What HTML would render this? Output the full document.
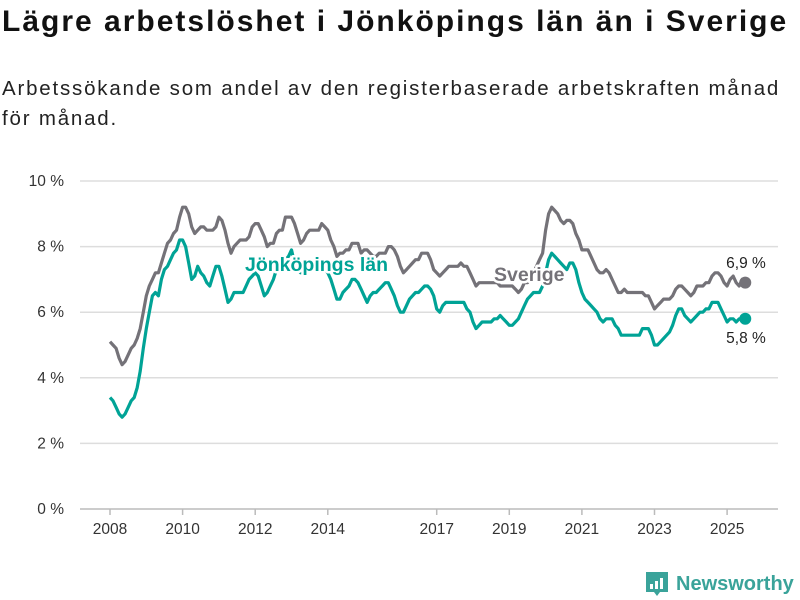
<!DOCTYPE html>
<html><head><meta charset="utf-8"><style>
body{margin:0;background:#fff;font-family:"Liberation Sans",sans-serif;}
#wrap{position:relative;width:800px;height:600px;overflow:hidden}
h1{position:absolute;left:2px;top:5px;margin:0;font-size:30px;font-weight:bold;color:#111;letter-spacing:2.0px;white-space:nowrap}
p.sub{position:absolute;left:2px;top:74px;margin:0;font-size:20.5px;line-height:30px;color:#222;width:796px;letter-spacing:1.8px;white-space:nowrap}
</style></head><body>
<div id="wrap">
<h1>Lägre arbetslöshet i Jönköpings län än i Sverige</h1>
<p class="sub">Arbetssökande som andel av den registerbaserade arbetskraften månad<br>för månad.</p>
<svg id="chart" width="800" height="600" style="position:absolute;left:0;top:0"></svg>
</div>
<script>
const yTicks=[0,2,4,6,8,10];
const yTickLabels=["0 %","2 %","4 %","6 %","8 %","10 %"];
const xTicks=[2008,2010,2012,2014,2017,2019,2021,2023,2025];
const startYear=2008;
const sverige=[5.1,5.0,4.9,4.6,4.4,4.5,4.7,4.9,5.0,5.2,5.5,6.0,
6.5,6.8,7.0,7.2,7.2,7.5,7.8,8.1,8.2,8.4,8.5,8.9,
9.2,9.2,9.0,8.6,8.4,8.5,8.6,8.6,8.5,8.5,8.5,8.6,
8.9,8.8,8.5,8.1,7.8,8.0,8.1,8.2,8.2,8.2,8.3,8.6,
8.7,8.7,8.5,8.3,8.0,8.1,8.1,8.4,8.5,8.5,8.9,8.9,
8.9,8.7,8.4,8.1,8.2,8.4,8.5,8.5,8.5,8.5,8.7,8.6,
8.5,8.2,8.0,7.7,7.8,7.8,7.9,7.9,8.1,8.1,8.1,7.8,
7.9,7.9,7.8,7.7,7.7,7.8,7.8,7.8,8.0,8.0,7.9,7.7,
7.4,7.2,7.3,7.4,7.5,7.6,7.6,7.8,7.8,7.8,7.6,7.3,
7.2,7.1,7.2,7.3,7.4,7.4,7.4,7.4,7.5,7.4,7.4,7.2,
7.0,6.8,6.9,6.9,6.9,6.9,6.9,6.9,6.9,6.8,6.8,6.8,
6.8,6.8,6.7,6.6,6.7,6.9,6.9,7.0,7.2,7.4,7.6,7.8,
8.5,9.0,9.2,9.1,9.0,8.8,8.7,8.8,8.8,8.7,8.4,8.2,
7.9,7.9,7.9,7.7,7.5,7.3,7.2,7.2,7.3,7.2,7.0,6.8,
6.6,6.6,6.7,6.6,6.6,6.6,6.6,6.6,6.6,6.5,6.5,6.3,
6.1,6.2,6.3,6.4,6.4,6.4,6.5,6.7,6.8,6.8,6.7,6.6,
6.5,6.6,6.8,6.8,6.8,6.9,6.9,7.1,7.2,7.2,7.1,6.9,
6.8,7.0,7.1,6.9,6.8,7.0,6.9];
const jonkoping=[3.4,3.3,3.1,2.9,2.8,2.9,3.1,3.3,3.4,3.7,4.2,4.9,
5.5,6.0,6.5,6.6,6.5,7.0,7.3,7.4,7.6,7.8,7.9,8.2,
8.2,8.0,7.5,7.0,7.1,7.4,7.2,7.1,6.9,6.8,7.1,7.4,
7.4,7.1,6.7,6.3,6.4,6.6,6.6,6.6,6.6,6.8,7.0,7.1,
7.2,7.1,6.8,6.5,6.6,6.8,7.0,7.3,7.4,7.4,7.6,7.7,
7.9,7.5,7.3,7.2,7.2,7.4,7.5,7.4,7.4,7.4,7.5,7.3,
7.2,7.0,6.7,6.4,6.4,6.6,6.7,6.8,7.0,7.0,6.9,6.7,
6.5,6.3,6.5,6.6,6.6,6.7,6.8,6.9,6.9,6.7,6.5,6.2,
6.0,6.0,6.2,6.4,6.5,6.6,6.6,6.7,6.8,6.8,6.7,6.5,
6.1,6.0,6.2,6.3,6.3,6.3,6.3,6.3,6.3,6.3,6.1,6.0,
5.7,5.5,5.6,5.7,5.7,5.7,5.7,5.8,5.8,5.9,5.8,5.7,
5.6,5.6,5.7,5.8,6.0,6.2,6.4,6.5,6.6,6.6,6.6,6.8,
7.2,7.6,7.8,7.7,7.6,7.5,7.4,7.3,7.5,7.5,7.3,6.9,
6.6,6.4,6.3,6.2,6.1,6.0,5.8,5.7,5.8,5.8,5.8,5.6,
5.5,5.3,5.3,5.3,5.3,5.3,5.3,5.3,5.5,5.5,5.5,5.3,
5.0,5.0,5.1,5.2,5.3,5.4,5.6,5.9,6.1,6.1,5.9,5.8,
5.7,5.8,5.9,6.0,6.0,6.1,6.1,6.3,6.3,6.3,6.1,5.9,
5.7,5.8,5.8,5.7,5.8,5.8,5.8];

const NS="http://www.w3.org/2000/svg";
const svg=document.getElementById('chart');
const X0=110,PXY=36.3,Y0=509,PXV=32.8;
const xYear=t=>X0+(t-startYear)*PXY;
const xIdx=i=>xYear(startYear+i/12);
const yV=v=>Y0-v*PXV;
function mk(tag,attrs){const e=document.createElementNS(NS,tag);for(const k in attrs)e.setAttribute(k,attrs[k]);svg.appendChild(e);return e;}
yTicks.forEach((v,i)=>{
  const l=mk('line',{x1:80,x2:778,y1:yV(v),y2:yV(v),stroke:v===0?'#bbb':'#ddd','stroke-width':1.5});
  
  
  const t=mk('text',{x:64,y:yV(v)+5,'text-anchor':'end','font-size':15.5,fill:'#333'});
  t.textContent=yTickLabels[i];
  
  
});
xTicks.forEach(yr=>{
  const l=mk('line',{x1:xYear(yr),x2:xYear(yr),y1:509,y2:515,stroke:'#bbb','stroke-width':1.5});
  
  
  const t=mk('text',{x:xYear(yr),y:534,'text-anchor':'middle','font-size':15.5,fill:'#333'});
  t.textContent=yr;
  
  
});
function line(data,color,name){
  const d=data.map((v,i)=>(i?'L':'M')+xIdx(i).toFixed(1)+','+yV(v).toFixed(1)).join('');
  const p=mk('path',{d:d,fill:'none',stroke:color,'stroke-width':3.2,'stroke-linejoin':'round'});
  
  
  const n=data.length-1;
  const c=mk('circle',{cx:xIdx(n),cy:yV(data[n]),r:6,fill:color});
  
  
}
line(sverige,'#747278','sverige');
line(jonkoping,'#00a396','jonkoping');
function label(x,y,txt,color,size,weight,name,anchor){
  const t=mk('text',{x:x,y:y,'font-size':size,'font-weight':weight,fill:color,stroke:'#fff','stroke-width':5,'paint-order':'stroke','stroke-linejoin':'round','text-anchor':anchor||'start'});
  t.textContent=txt;
  
  
}
label(245,271,'Jönköpings län','#00a396',19.5,'bold','jonkoping-series-label');
label(494,281,'Sverige','#747278',19.5,'bold','sverige-series-label');
const ns=sverige.length-1, nj=jonkoping.length-1;
label(746,268,sverige[ns].toFixed(1).replace('.',',')+' %','#222',15.5,'normal','sverige-end-value','middle');
label(746,343,jonkoping[nj].toFixed(1).replace('.',',')+' %','#222',15.5,'normal','jonkoping-end-value','middle');
const g=document.createElementNS(NS,'g');svg.appendChild(g);


g.innerHTML='<path d="M646,572 h22 v20 h-8 l-3,4 l-3,-4 h-8 z" fill="#3aa39a"/><rect x="650" y="584" width="3" height="5" fill="#fff"/><rect x="655" y="581" width="3" height="8" fill="#fff"/><rect x="660" y="578" width="3" height="11" fill="#fff"/><text x="676" y="590" font-size="20" font-weight="bold" fill="#3aa39a">Newsworthy</text>';
</script>
</body></html>
